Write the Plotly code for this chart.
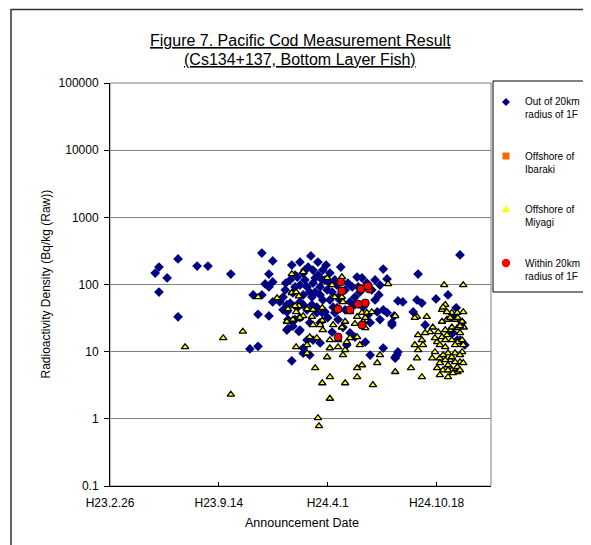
import plotly.graph_objects as go

# ---------------- data ----------------
out20_dates = [
    "2011-05-20", "2011-05-27", "2011-06-11", "2011-07-01", "2011-05-27", "2011-07-01",
    "2011-08-05", "2011-08-25", "2011-10-06", "2011-12-02", "2011-12-22", "2011-12-15",
    "2011-12-08", "2011-12-22", "2011-12-15", "2011-11-16", "2011-12-02", "2011-12-22",
    "2011-11-25", "2011-12-15", "2011-11-10", "2011-11-25", "2012-01-26", "2012-01-17",
    "2012-01-19", "2012-02-08", "2012-02-16",
    "2012-03-01", "2012-04-25", "2012-07-12", "2012-07-19", "2012-09-14", "2012-11-30",
    "2012-07-06", "2012-07-04", "2012-07-12", "2012-08-08", "2012-08-17", "2012-09-12",
    "2012-09-21", "2012-10-17", "2012-11-08", "2012-11-23", "2012-09-05", "2012-09-27",
    "2012-08-01", "2012-07-06", "2012-07-28", "2012-07-19", "2012-02-10", "2012-01-17",
    "2012-01-19", "2012-06-09", "2012-06-18", "2012-07-12", "2012-08-03", "2012-08-08",
    "2012-03-23", "2012-04-05", "2012-05-25", "2012-06-03", "2012-05-08", "2012-05-30",
    "2012-06-05", "2012-06-14", "2012-07-01", "2012-02-10", "2012-03-12", "2012-02-23",
    "2012-03-05", "2012-03-18", "2012-02-16", "2012-02-28", "2012-04-09", "2012-04-29",
    "2012-05-12", "2012-05-21", "2012-05-06",
    "2012-01-23", "2012-02-05", "2012-02-16", "2012-02-25", "2012-03-05", "2012-03-14",
    "2012-02-10", "2012-02-23", "2012-03-05", "2012-03-18", "2012-01-28", "2012-02-16",
    "2012-03-03", "2012-03-18", "2012-03-31", "2012-01-23", "2012-02-05", "2012-02-23",
    "2012-03-12", "2012-03-27", "2012-01-17", "2012-01-10", "2012-01-04", "2012-04-05",
    "2012-04-14", "2012-04-20", "2012-04-11", "2012-03-23", "2012-04-01", "2012-04-20",
    "2012-02-10", "2012-02-28", "2012-03-18",
    "2012-05-03", "2012-05-16", "2012-06-12", "2012-06-21", "2012-05-21", "2012-05-12",
    "2012-06-27", "2012-06-18", "2012-03-14", "2012-03-29",
    "2012-11-21", "2012-12-04", "2012-11-30", "2012-11-17", "2012-08-06", "2012-08-03",
    "2012-12-09", "2012-11-25", "2012-07-28",
    "2012-02-01", "2012-02-19", "2012-03-09", "2012-01-14", "2012-03-27", "2012-02-28",
    "2012-04-05", "2012-02-01",
    "2012-01-26", "2012-02-10", "2012-02-19", "2012-01-15", "2012-02-01", "2012-03-09",
    "2012-03-22", "2012-04-09", "2012-04-18", "2012-02-16", "2012-03-03", "2012-03-22",
    "2012-04-14", "2012-05-03", "2012-05-21", "2012-05-27", "2012-06-27", "2012-01-10",
    "2012-01-28", "2012-04-23",
]
out20_values = [
    148, 182, 125, 240, 77, 33,
    188, 188, 143, 294, 224, 143,
    102, 109, 92, 70, 70, 55,
    36, 34, 11, 12, 7.3, 50,
    22, 20, 9.5,
    266, 182, 170, 121, 143, 275,
    98, 70, 42, 57, 55, 59,
    53, 61, 70, 45, 39, 25,
    34, 30, 25, 38, 21, 21,
    30, 13.9, 8.9, 11.3, 8.3, 9.9,
    164, 148, 129, 125, 105, 77,
    46, 35, 39, 55, 46, 14.9,
    14.9, 13.5, 11.3, 8.9, 19.6, 23,
    19, 16.5, 12.6,
    117, 129, 148, 182, 164, 138,
    98, 92, 105, 92, 75, 70,
    65, 70, 83, 53, 45, 42,
    38, 39, 39, 65, 55, 105,
    117, 65, 46, 59, 32, 30,
    32, 27, 27,
    83, 92, 105, 83, 65, 55,
    59, 27, 216, 195,
    33, 27, 14.9, 19, 8.9, 8.0,
    12.6, 14.9, 27,
    138, 117, 125, 83, 117, 77,
    59, 30,
    195, 216, 164, 105, 92, 77,
    117, 77, 98, 50, 50, 38,
    38, 42, 50, 92, 117, 42,
    24, 59,
]

ibaraki_dates = []
ibaraki_values = []

miyagi_dates = [
    "2011-07-14", "2011-09-22", "2011-10-28", "2011-10-06", "2011-11-25", "2011-12-30",
    "2012-01-26", "2012-02-16", "2012-01-26", "2012-02-03", "2012-02-08", "2012-01-19",
    "2012-02-03", "2012-02-08", "2012-02-16", "2012-02-08", "2012-01-19", "2012-02-03",
    "2012-02-23", "2012-02-23",
    "2012-03-31", "2012-04-27", "2012-02-01", "2012-02-23", "2012-03-05", "2012-03-22",
    "2012-01-17", "2012-01-28", "2012-02-10", "2012-03-03", "2012-03-22", "2012-04-09",
    "2012-04-14", "2012-04-27", "2012-04-18", "2012-04-29", "2012-05-03", "2012-05-12",
    "2012-05-25", "2012-06-03", "2012-06-12", "2012-06-21", "2012-06-05", "2012-06-09",
    "2012-07-21", "2012-08-03", "2012-04-11", "2012-03-18", "2012-03-05", "2012-03-23",
    "2012-04-27", "2012-05-21", "2012-06-09", "2012-02-28", "2012-03-12", "2012-04-05",
    "2012-04-20", "2012-05-12", "2012-05-25", "2012-05-30", "2012-05-06", "2012-04-05",
    "2012-03-31", "2012-04-20", "2012-05-03", "2012-04-29",
    "2012-07-06", "2012-07-01", "2012-06-03", "2012-05-25", "2012-05-25", "2012-03-09",
    "2012-04-05", "2012-03-22", "2012-05-03", "2012-06-23", "2012-04-05", "2012-08-03",
    "2012-09-01", "2012-09-21", "2012-03-14", "2012-03-16",
    "2012-11-01", "2012-12-06", "2012-09-12", "2012-09-30", "2012-11-03", "2012-10-28",
    "2012-11-15", "2012-11-25", "2012-12-06", "2012-11-06", "2012-11-21", "2012-12-04",
    "2012-10-11", "2012-10-06", "2012-09-27", "2012-09-14", "2012-09-21", "2012-09-08",
    "2012-09-23", "2012-09-14", "2012-09-12", "2012-10-19", "2012-10-28", "2012-11-06",
    "2012-11-12", "2012-11-25", "2012-11-30", "2012-12-07", "2012-11-15", "2012-11-26",
    "2012-10-24", "2012-11-03", "2012-10-15", "2012-10-10", "2012-10-24", "2012-11-08",
    "2012-11-21", "2012-12-04", "2012-11-30", "2012-11-12", "2012-10-24", "2012-11-08",
    "2012-11-25", "2012-12-06", "2012-10-30", "2012-11-15", "2012-11-25", "2012-10-24",
    "2012-11-08", "2012-11-17", "2012-11-03", "2012-10-21", "2012-10-30", "2012-11-06",
    "2012-09-08",
    "2012-11-12", "2012-11-26", "2012-10-28", "2012-11-15", "2012-11-30", "2012-11-03",
    "2012-11-21", "2012-12-04", "2012-10-30", "2012-11-15", "2012-11-30", "2012-11-03",
    "2012-11-21", "2012-10-19", "2012-11-08", "2012-11-30", "2012-12-06", "2012-10-15",
]
miyagi_values = [
    11.7, 16, 20, 2.3, 65, 63,
    143, 153, 75, 77, 67, 43,
    39, 48, 34, 31, 29, 11.7,
    12.6, 9.5,
    125, 129, 48, 43, 42, 45,
    28, 30, 32, 33, 29, 98,
    65, 65, 46, 55, 28, 39,
    33, 38, 38, 39, 28, 32,
    102, 34, 25, 25, 25, 21,
    23, 26, 22.5, 16.5, 16, 14.9,
    14.9, 16, 16.5, 12.6, 13.9, 11.3,
    8.3, 11.7, 10.6, 8.9,
    8.9, 6.8, 6.3, 5.7, 4.2, 5.7,
    4.2, 3.4, 3.4, 3.2, 2.0, 5.0,
    5.7, 4.2, 1.03, 0.78,
    98, 98, 33, 33, 50, 42,
    38, 38, 39, 30, 30, 28,
    23, 19.6, 19, 17.7, 14.9, 12.6,
    12.6, 10.6, 8.0, 13.9, 16.5, 17.7,
    21, 22.5, 19, 23, 14.9, 13.9,
    12.6, 11.7, 9.9, 8.0, 8.0, 9.5,
    9.5, 9.9, 7.0, 7.5, 6.8, 6.3,
    5.9, 6.8, 5.3, 5.3, 5.0, 4.5,
    4.2, 4.8, 21, 19.6, 46, 39,
    32,
    32, 32, 28, 23, 24, 14.9,
    12.6, 14.9, 8.9, 8.3, 8.9, 7.5,
    7.0, 5.7, 5.3, 5.3, 12.6, 16,
]

within20_dates = [
    "2012-04-25", "2012-04-27", "2012-06-01", "2012-06-16", "2012-06-09", "2012-05-27",
    "2012-05-12", "2012-04-20", "2012-06-03", "2012-04-20", "2012-06-14",
]
within20_values = [109, 80, 86, 86, 53, 51, 42, 43, 25, 16.5, 95]

x_tick_dates = ["2011-02-26", "2011-09-14", "2012-04-01", "2012-10-18"]
x_tick_labels = ["H23.2.26", "H23.9.14", "H24.4.1", "H24.10.18"]
y_tick_values = [0.1, 1, 10, 100, 1000, 10000, 100000]
y_tick_labels = ["0.1", "1", "10", "100", "1000", "10000", "100000"]

series_names = ["Out of 20km<br>radius of 1F", "Offshore of<br>Ibaraki",
                "Offshore of<br>Miyagi", "Within 20km<br>radius of 1F"]

# ---------------- figure ----------------
# The page body keeps its default 8px margin, so the figure is sized to fill
# the 591x545 window from (8, 8).
OFF = 8
W, H = 591 - OFF, 545 - OFF
PLOT_L, PLOT_R, PLOT_T, PLOT_B = 110, 491, 83, 486     # window pixels of the plot area
L, T = PLOT_L - OFF, PLOT_T - OFF
PW, PH = PLOT_R - PLOT_L, PLOT_B - PLOT_T
R, B = W - L - PW, H - T - PH
FONT = "Liberation Sans, Arial, sans-serif"


def px_x(p):
    return (p - PLOT_L) / PW


def px_y(p):
    return (PLOT_B - p) / PH


fig = go.Figure()
fig.add_trace(go.Scatter(x=out20_dates, y=out20_values, mode="markers", name=series_names[0],
                         marker=dict(symbol="diamond", size=7.5, color="#000080",
                                     line=dict(width=0))))
fig.add_trace(go.Scatter(x=ibaraki_dates, y=ibaraki_values, mode="markers", name=series_names[1],
                         marker=dict(symbol="square", size=7, color="#FF6600")))
fig.add_trace(go.Scatter(x=miyagi_dates, y=miyagi_values, mode="markers", name=series_names[2],
                         marker=dict(symbol="triangle-up", size=6.5, color="#FFFF00",
                                     line=dict(width=1.3, color="black"))))
fig.add_trace(go.Scatter(x=within20_dates, y=within20_values, mode="markers", name=series_names[3],
                         marker=dict(symbol="circle", size=8, color="#FF0000",
                                     line=dict(width=1, color="black"))))

shapes = []
# outer frame
shapes.append(dict(type="rect", xref="paper", yref="paper",
                   x0=px_x(11), x1=px_x(588.5), y0=px_y(580), y1=px_y(9.5),
                   line=dict(color="#333333", width=1.5), fillcolor="rgba(0,0,0,0)"))
# plot-area border (grey)
shapes.append(dict(type="rect", xref="paper", yref="paper", x0=0, x1=1, y0=0, y1=1,
                   line=dict(color="#808080", width=1), layer="below"))
# legend box
shapes.append(dict(type="rect", xref="paper", yref="paper",
                   x0=px_x(493), x1=px_x(586.5), y0=px_y(292), y1=px_y(81),
                   line=dict(color="black", width=1), fillcolor="white"))

# legend symbols
sym_x = px_x(506)
sym_rows = [102, 156, 209, 263]
shapes.append(dict(type="path", xref="paper", yref="paper", xsizemode="pixel", ysizemode="pixel",
                   xanchor=sym_x, yanchor=px_y(sym_rows[0]),
                   path="M0,4 L4,0 L0,-4 L-4,0 Z", fillcolor="#000080", line=dict(width=0)))
shapes.append(dict(type="rect", xref="paper", yref="paper", xsizemode="pixel", ysizemode="pixel",
                   xanchor=sym_x, yanchor=px_y(sym_rows[1]), x0=-3.5, x1=3.5, y0=-3.5, y1=3.5,
                   fillcolor="#FF6600", line=dict(width=0)))
shapes.append(dict(type="path", xref="paper", yref="paper", xsizemode="pixel", ysizemode="pixel",
                   xanchor=sym_x, yanchor=px_y(sym_rows[2]),
                   path="M-4,-3 L4,-3 L0,4 Z", fillcolor="#FFFF00", line=dict(width=0)))
shapes.append(dict(type="circle", xref="paper", yref="paper", xsizemode="pixel", ysizemode="pixel",
                   xanchor=sym_x, yanchor=px_y(sym_rows[3]), x0=-4.2, x1=4.2, y0=-4.2, y1=4.2,
                   fillcolor="#FF0000", line=dict(width=0)))

annotations = []
for line_text, row in (("<u>Figure 7. Pacific Cod Measurement Result</u>", 41),
                       ("<u>(Cs134+137, Bottom Layer Fish)</u>", 59)):
    annotations.append(dict(text=line_text, xref="paper", yref="paper", x=px_x(300),
                            y=px_y(row), xanchor="center", yanchor="middle", showarrow=False,
                            font=dict(size=16, color="black", family=FONT)))
annotations.append(dict(text="Radioactivity Density (Bq/kg (Raw))", textangle=-90,
                        xref="paper", yref="paper", x=px_x(45), y=0.5, xanchor="center",
                        yanchor="middle", showarrow=False,
                        font=dict(size=12, color="black", family=FONT)))
annotations.append(dict(text="Announcement Date", xref="paper", yref="paper",
                        x=px_x(302), y=px_y(523), xanchor="center", yanchor="middle",
                        showarrow=False, font=dict(size=12.5, color="black", family=FONT)))
text_rows = [108, 162.5, 216, 269.5]
for name, row in zip(series_names, text_rows):
    annotations.append(dict(text=name, xref="paper", yref="paper", x=px_x(523), y=px_y(row),
                            xanchor="left", yanchor="middle", align="left", showarrow=False,
                            font=dict(size=10, color="black", family=FONT)))

fig.update_layout(
    width=W, height=H, margin=dict(l=L, r=R, t=T, b=B, autoexpand=False),
    paper_bgcolor="white", plot_bgcolor="white", showlegend=False,
    font=dict(family=FONT, color="black", size=12),
    shapes=shapes, annotations=annotations,
    xaxis=dict(type="date", range=["2011-02-26", "2013-01-26"], tickmode="array",
               tickvals=x_tick_dates, ticktext=x_tick_labels, ticks="inside", ticklen=4,
               tickcolor="black", showline=True, linecolor="black", linewidth=1,
               showgrid=False, zeroline=False, tickfont=dict(size=12),
               ticklabelstandoff=6),
    yaxis=dict(type="log", range=[-1, 5], tickmode="array", tickvals=y_tick_values,
               ticktext=y_tick_labels, ticks="outside", ticklen=5, tickcolor="black",
               showline=True, linecolor="black", linewidth=1, showgrid=True,
               gridcolor="#808080", gridwidth=1, zeroline=False, tickfont=dict(size=12),
               ticklabelstandoff=3),
)

fig.write_html("out.html")
